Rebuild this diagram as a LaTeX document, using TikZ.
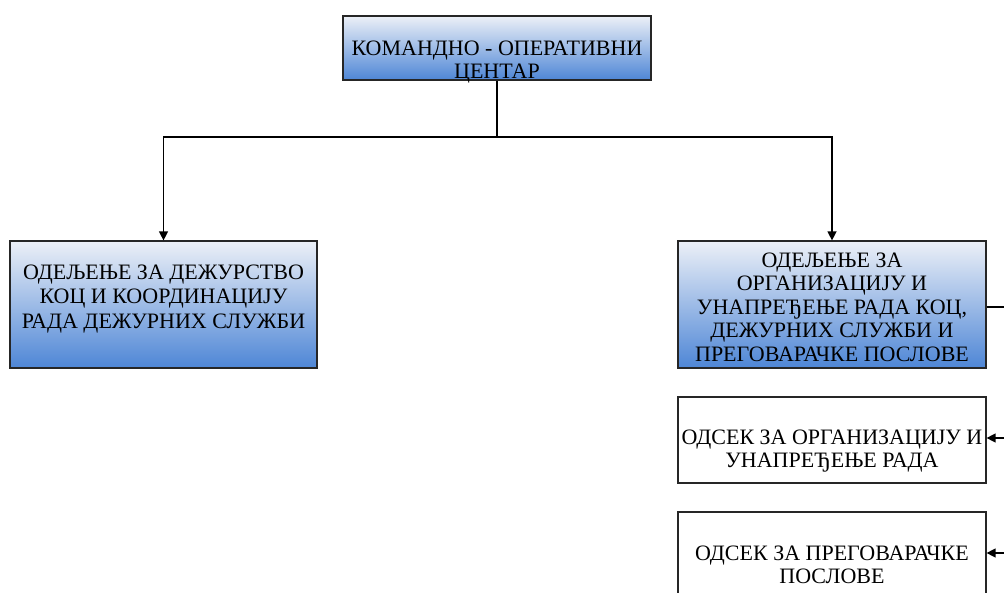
\documentclass[tikz,border=0pt]{standalone}
\usepackage{fontspec}
\setmainfont{Liberation Serif}
\usetikzlibrary{arrows.meta}
\begin{document}
\begin{tikzpicture}[x=1pt,y=-1pt,
  box/.style={draw=black!85,line width=1.2pt,rectangle,inner sep=0pt},
  shaded/.style={box,top color={rgb,255:red,236;green,240;blue,247},middle color={rgb,255:red,180;green,200;blue,234},bottom color={rgb,255:red,78;green,134;blue,214}},
  plain/.style={box,fill=white},
  txt/.style={align=center,font=\fontsize{22}{23.5}\selectfont,inner sep=0pt},
  conn/.style={line width=1.3pt,draw=black},
  arr/.style={conn,-{Triangle[length=9pt,width=9pt]}}
]
\useasboundingbox (0,0) rectangle (1004,593);
\node[shaded,minimum width=308pt,minimum height=64pt] (top) at (497,48) {};
\node[txt] (toptxt) at (497,62) {КОМАНДНО - ОПЕРАТИВНИ\\ЦЕНТАР};
\node[shaded,minimum width=307pt,minimum height=127pt] (left) at (163.5,304.5) {};
\node[txt,font=\fontsize{22}{24.5}\selectfont] (lefttxt) at (163.5,299) {ОДЕЉЕЊЕ ЗА ДЕЖУРСТВО\\КОЦ И КООРДИНАЦИЈУ\\РАДА ДЕЖУРНИХ СЛУЖБИ};
\node[shaded,minimum width=308pt,minimum height=127pt] (right) at (832,304.5) {};
\node[txt] (righttxt) at (832,307) {ОДЕЉЕЊЕ ЗА\\ОРГАНИЗАЦИЈУ И\\УНАПРЕЂЕЊЕ РАДА КОЦ,\\ДЕЖУРНИХ СЛУЖБИ И\\ПРЕГОВАРАЧКЕ ПОСЛОВЕ};
\node[plain,minimum width=308pt,minimum height=86pt] (o1) at (832,440) {};
\node[txt] (o1txt) at (832,451) {ОДСЕК ЗА ОРГАНИЗАЦИЈУ И\\УНАПРЕЂЕЊЕ РАДА};
\node[plain,minimum width=308pt,minimum height=86pt] (o2) at (832,555) {};
\node[txt] (o2txt) at (832,565) {ОДСЕК ЗА ПРЕГОВАРАЧКЕ\\ПОСЛОВЕ};
\coordinate (j) at (497,137);
\coordinate (rend) at (1006,307);
\coordinate (a1) at (1006,438);
\coordinate (a2) at (1006,553);
\draw[conn] (top.south) -- (j);
\draw[arr] (j) -| (left.north);
\draw[arr] (j) -| (right.north);
\draw[conn] (right.east |- rend) -- (rend);
\draw[arr] (a1) -- (o1.east |- a1);
\draw[arr] (a2) -- (o2.east |- a2);
\end{tikzpicture}
\end{document}
